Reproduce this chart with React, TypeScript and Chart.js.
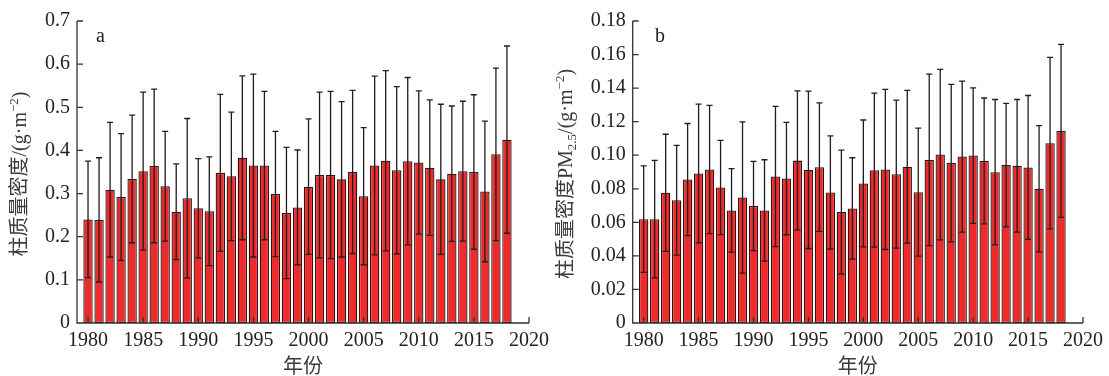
import { useEffect, useRef } from 'react';
import { Chart, registerables } from 'chart.js';

Chart.register(...registerables);

const years = [
  1980, 1981, 1982, 1983, 1984, 1985, 1986, 1987, 1988, 1989,
  1990, 1991, 1992, 1993, 1994, 1995, 1996, 1997, 1998, 1999,
  2000, 2001, 2002, 2003, 2004, 2005, 2006, 2007, 2008, 2009,
  2010, 2011, 2012, 2013, 2014, 2015, 2016, 2017, 2018,
];

const massMean = [
  0.240, 0.239, 0.309, 0.292, 0.334, 0.352, 0.364, 0.317, 0.258, 0.289,
  0.266, 0.259, 0.348, 0.340, 0.383, 0.365, 0.365, 0.299, 0.255, 0.268,
  0.316, 0.343, 0.343, 0.333, 0.350, 0.294, 0.365, 0.376, 0.354, 0.375,
  0.372, 0.360, 0.333, 0.346, 0.352, 0.350, 0.305, 0.391, 0.425,
];
const massSd = [
  0.135, 0.144, 0.156, 0.147, 0.148, 0.183, 0.178, 0.127, 0.111, 0.185,
  0.115, 0.126, 0.182, 0.149, 0.190, 0.212, 0.172, 0.145, 0.152, 0.133,
  0.157, 0.192, 0.194, 0.180, 0.189, 0.159, 0.207, 0.209, 0.194, 0.194,
  0.166, 0.157, 0.174, 0.157, 0.162, 0.179, 0.163, 0.200, 0.217,
];

const pmMean = [
  0.0619, 0.0619, 0.0776, 0.0732, 0.0855, 0.0891, 0.0915, 0.0808, 0.0671, 0.0748,
  0.0697, 0.0671, 0.0873, 0.0861, 0.0968, 0.0913, 0.0929, 0.0778, 0.0661, 0.0683,
  0.0832, 0.0911, 0.0915, 0.0887, 0.0931, 0.0780, 0.0972, 0.1004, 0.0953, 0.0992,
  0.0998, 0.0966, 0.0899, 0.0941, 0.0937, 0.0927, 0.0800, 0.1072, 0.1145,
];
const pmSd = [
  0.0317, 0.0350, 0.0349, 0.0327, 0.0334, 0.0413, 0.0382, 0.0281, 0.0249, 0.0451,
  0.0266, 0.0302, 0.0418, 0.0335, 0.0415, 0.0469, 0.0383, 0.0337, 0.0369, 0.0302,
  0.0378, 0.0459, 0.0477, 0.0441, 0.0455, 0.0381, 0.0511, 0.0508, 0.0469, 0.0450,
  0.0404, 0.0375, 0.0433, 0.0368, 0.0395, 0.0429, 0.0376, 0.0511, 0.0516,
];

const xTicks = [1980, 1985, 1990, 1995, 2000, 2005, 2010, 2015, 2020];
const massTicks = [0, 0.1, 0.2, 0.3, 0.4, 0.5, 0.6, 0.7];
const pmTicks = [0, 0.02, 0.04, 0.06, 0.08, 0.1, 0.12, 0.14, 0.16, 0.18];

const xTitle = '年份';
const massTitle = [
  { text: '柱质量密度', kind: 'cjk' },
  { text: '/(g·m', kind: 'serif' },
  { text: '−2', kind: 'sup' },
  { text: ')', kind: 'serif' },
];
const pmTitle = [
  { text: '柱质量密度', kind: 'cjk' },
  { text: 'PM', kind: 'serif' },
  { text: '2.5', kind: 'sub' },
  { text: '/(g·m', kind: 'serif' },
  { text: '−2', kind: 'sup' },
  { text: ')', kind: 'serif' },
];

const SERIF = '"Liberation Serif", "DejaVu Serif", serif';
const CJK = '"Noto Sans CJK SC", sans-serif';
const FONT_SIZE = 20;

type Seg = { text: string; kind: string };

function segFont(kind: string) {
  if (kind === 'cjk') return `${FONT_SIZE}px ${CJK}`;
  if (kind === 'sup' || kind === 'sub') return `13px ${SERIF}`;
  return `${FONT_SIZE}px ${SERIF}`;
}
function segDy(kind: string) {
  if (kind === 'sup') return -8;
  if (kind === 'sub') return 4;
  return 0;
}

function drawRotated(ctx: CanvasRenderingContext2D, cx: number, cy: number, segs: Seg[]) {
  ctx.save();
  ctx.translate(cx, cy);
  ctx.rotate(-Math.PI / 2);
  ctx.textAlign = 'left';
  ctx.textBaseline = 'alphabetic';
  ctx.fillStyle = '#3a3a3a';
  let total = 0;
  segs.forEach((s) => {
    ctx.font = segFont(s.kind);
    total += ctx.measureText(s.text).width;
  });
  let pos = -total / 2;
  segs.forEach((s) => {
    ctx.font = segFont(s.kind);
    ctx.fillText(s.text, pos, 7 + segDy(s.kind));
    pos += ctx.measureText(s.text).width;
  });
  ctx.restore();
}

type Panel = {
  means: number[];
  sds: number[];
  yMax: number;
  yTicks: number[];
  decimals: number;
  yAxisWidth: number;
  padRight: number;
  titleX: number;
  title: Seg[];
  letter: string;
  letterX: number;
};

function makeConfig(p: Panel): any {
  const overlay = {
    id: 'overlay',
    afterDatasetsDraw(chart: any) {
      const ctx = chart.ctx as CanvasRenderingContext2D;
      const xs = chart.scales.x;
      const ys = chart.scales.y;
      ctx.save();
      ctx.strokeStyle = '#1e1e1e';
      ctx.lineWidth = 1.3;
      years.forEach((yr, i) => {
        const px = xs.getPixelForValue(yr);
        const top = ys.getPixelForValue(p.means[i] + p.sds[i]);
        const bot = ys.getPixelForValue(p.means[i] - p.sds[i]);
        ctx.beginPath();
        ctx.moveTo(px, top);
        ctx.lineTo(px, bot);
        ctx.moveTo(px - 3, top);
        ctx.lineTo(px + 3, top);
        ctx.moveTo(px - 3, bot);
        ctx.lineTo(px + 3, bot);
        ctx.stroke();
      });
      ctx.restore();
    },
    afterDraw(chart: any) {
      const ctx = chart.ctx as CanvasRenderingContext2D;
      const xs = chart.scales.x;
      const ys = chart.scales.y;
      const area = chart.chartArea;
      ctx.save();
      ctx.strokeStyle = '#333';
      ctx.lineWidth = 1.3;
      ctx.beginPath();
      ctx.moveTo(area.left, area.top);
      ctx.lineTo(area.left, area.bottom);
      ctx.lineTo(area.right, area.bottom);
      p.yTicks.forEach((v) => {
        const py = ys.getPixelForValue(v);
        ctx.moveTo(area.left, py);
        ctx.lineTo(area.left + 6, py);
      });
      xTicks.forEach((v) => {
        const px = xs.getPixelForValue(v);
        ctx.moveTo(px, area.bottom);
        ctx.lineTo(px, area.bottom - 6);
      });
      ctx.stroke();

      // panel letter
      ctx.fillStyle = '#222';
      ctx.font = `${FONT_SIZE}px ${SERIF}`;
      ctx.textAlign = 'left';
      ctx.textBaseline = 'alphabetic';
      ctx.fillText(p.letter, p.letterX, 42);

      // x title
      ctx.fillStyle = '#3a3a3a';
      ctx.font = `${FONT_SIZE}px ${CJK}`;
      ctx.textAlign = 'center';
      ctx.textBaseline = 'middle';
      ctx.fillText(xTitle, (area.left + area.right) / 2, 365);
      ctx.restore();

      drawRotated(ctx, p.titleX, 174, p.title);
    },
  };

  return {
    type: 'bar',
    data: {
      datasets: [
        {
          data: years.map((yr, i) => ({ x: yr, y: p.means[i] })),
          backgroundColor: '#ee2a2a',
          borderColor: '#2e1414',
          borderWidth: 1.3,
          borderSkipped: false,
          barPercentage: 0.85,
          categoryPercentage: 1,
        },
      ],
    },
    options: {
      animation: false,
      responsive: false,
      maintainAspectRatio: false,
      devicePixelRatio: 1,
      layout: { padding: { top: 21, right: p.padRight, left: 0, bottom: 0 } },
      plugins: { legend: { display: false }, tooltip: { enabled: false } },
      scales: {
        x: {
          type: 'linear',
          min: 1979,
          max: 2020,
          offset: false,
          grid: { display: false, drawTicks: false },
          border: { display: false },
          afterBuildTicks(scale: any) {
            scale.ticks = xTicks.map((v) => ({ value: v }));
          },
          afterFit(scale: any) {
            scale.height = 53;
          },
          ticks: {
            autoSkip: false,
            maxRotation: 0,
            padding: 6,
            color: '#222',
            font: { family: SERIF, size: FONT_SIZE },
            callback: (v: any) => String(v),
          },
        },
        y: {
          type: 'linear',
          min: 0,
          max: p.yMax,
          grid: { display: false, drawTicks: false },
          border: { display: false },
          afterBuildTicks(scale: any) {
            scale.ticks = p.yTicks.map((v) => ({ value: v }));
          },
          afterFit(scale: any) {
            scale.width = p.yAxisWidth;
          },
          ticks: {
            autoSkip: false,
            padding: 7,
            color: '#222',
            font: { family: SERIF, size: FONT_SIZE },
            callback: (v: any) => (Number(v) === 0 ? '0' : Number(v).toFixed(p.decimals)),
          },
        },
      },
    },
    plugins: [overlay],
  };
}

export default function App() {
  const refA = useRef<HTMLCanvasElement | null>(null);
  const refB = useRef<HTMLCanvasElement | null>(null);

  useEffect(() => {
    if (!refA.current || !refB.current) return;
    const a = new Chart(
      refA.current,
      makeConfig({
        means: massMean,
        sds: massSd,
        yMax: 0.7,
        yTicks: massTicks,
        decimals: 1,
        yAxisWidth: 77,
        padRight: 24.3,
        titleX: 19,
        title: massTitle,
        letter: 'a',
        letterX: 96,
      })
    );
    const b = new Chart(
      refB.current,
      makeConfig({
        means: pmMean,
        sds: pmSd,
        yMax: 0.18,
        yTicks: pmTicks,
        decimals: 2,
        yAxisWidth: 77.7,
        padRight: 23.7,
        titleX: 10,
        title: pmTitle,
        letter: 'b',
        letterX: 100,
      })
    );
    return () => {
      a.destroy();
      b.destroy();
    };
  }, []);

  return (
    <div style={{ position: 'absolute', left: 0, top: 0, width: 1109, height: 376, background: '#fff' }}>
      <canvas ref={refA} width={555} height={376} style={{ position: 'absolute', left: 0, top: 0 }} />
      <canvas ref={refB} width={554} height={376} style={{ position: 'absolute', left: 555, top: 0 }} />
    </div>
  );
}
